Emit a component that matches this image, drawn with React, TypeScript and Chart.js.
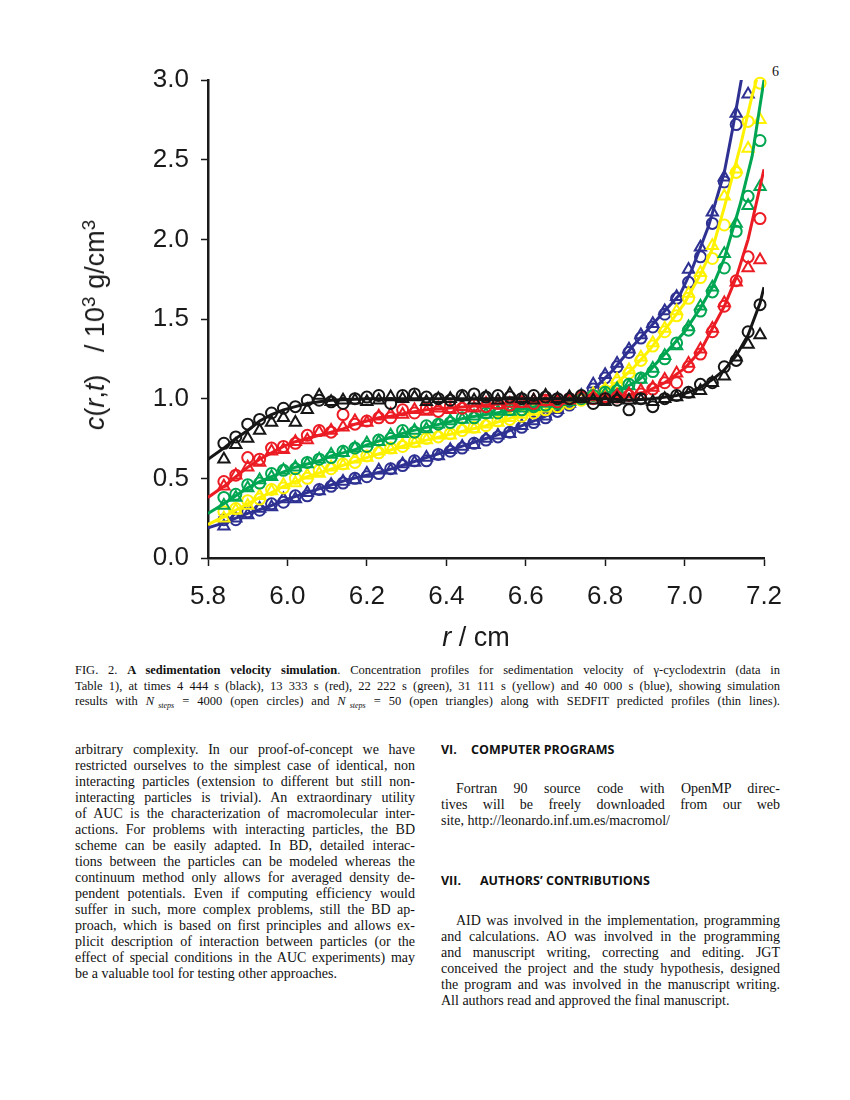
import React, { useEffect, useRef } from "react";
import { Chart, registerables } from "chart.js";

Chart.register(...registerables);

// ---------- data ----------
const xTicks = [5.8, 6.0, 6.2, 6.4, 6.6, 6.8, 7.0, 7.2];
const yTicks = [0, 0.5, 1.0, 1.5, 2.0, 2.5, 3.0];

// simulation sample positions (r, cm) shared by circles and triangles
const rGrid = [5.84, 5.87, 5.9, 5.93, 5.96, 5.99, 6.02, 6.05, 6.08, 6.11, 6.14, 6.17, 6.2, 6.23, 6.26, 6.29, 6.32, 6.35, 6.38, 6.41, 6.44, 6.47, 6.5, 6.53, 6.56, 6.59, 6.62, 6.65, 6.68, 6.71, 6.74, 6.77, 6.8, 6.83, 6.86, 6.89, 6.92, 6.95, 6.98, 7.01, 7.04, 7.07, 7.1, 7.13, 7.16, 7.19];

// N_steps = 4000 (open circles)
const blackCirc = [0.72, 0.76, 0.84, 0.87, 0.91, 0.94, 0.95, 0.99, 0.99, 0.98, 0.97, 1.0, 1.01, 1.02, 0.97, 1.02, 1.03, 1.01, 1.0, 0.99, 1.02, 1.03, 1.01, 1.02, 1.01, 1.0, 1.02, 1.01, 1.0, 1.0, 1.02, 0.97, 1.0, 0.99, 0.93, 1.0, 0.95, 1.0, 1.02, 1.04, 1.09, 1.1, 1.2, 1.24, 1.42, 1.59];
const redCirc = [0.48, 0.52, 0.63, 0.62, 0.69, 0.7, 0.72, 0.77, 0.8, 0.79, 0.9, 0.84, 0.86, 0.88, 0.88, 0.93, 0.91, 0.94, 0.92, 0.95, 0.94, 0.96, 0.95, 0.97, 0.96, 0.98, 0.97, 0.99, 0.98, 1.0, 1.01, 1.0, 1.0, 1.01, 1.02, 1.03, 1.06, 1.1, 1.1, 1.2, 1.28, 1.42, 1.58, 1.74, 1.89, 2.13];
const greenCirc = [0.38, 0.4, 0.46, 0.47, 0.53, 0.55, 0.56, 0.6, 0.62, 0.63, 0.67, 0.69, 0.7, 0.74, 0.75, 0.8, 0.79, 0.83, 0.84, 0.85, 0.88, 0.88, 0.91, 0.91, 0.93, 0.93, 0.95, 0.96, 0.97, 0.99, 1.0, 1.02, 1.04, 1.05, 1.09, 1.13, 1.17, 1.25, 1.35, 1.43, 1.55, 1.67, 1.82, 2.05, 2.27, 2.62];
const yellowCirc = [0.29, 0.31, 0.36, 0.37, 0.43, 0.44, 0.5, 0.5, 0.55, 0.56, 0.59, 0.6, 0.64, 0.66, 0.69, 0.7, 0.73, 0.75, 0.76, 0.78, 0.8, 0.82, 0.83, 0.86, 0.87, 0.89, 0.91, 0.93, 0.95, 0.97, 0.99, 1.02, 1.05, 1.1, 1.16, 1.24, 1.33, 1.42, 1.52, 1.63, 1.76, 1.88, 2.09, 2.42, 2.74, 2.98];
const blueCirc = [0.24, 0.24, 0.29, 0.3, 0.34, 0.35, 0.39, 0.39, 0.43, 0.45, 0.47, 0.5, 0.51, 0.53, 0.56, 0.58, 0.61, 0.61, 0.65, 0.67, 0.69, 0.72, 0.74, 0.76, 0.79, 0.82, 0.85, 0.88, 0.92, 0.96, 1.01, 1.06, 1.13, 1.2, 1.29, 1.38, 1.45, 1.53, 1.63, 1.73, 1.89, 2.1, 2.36, 2.72, null, null];

// N_steps = 50 (open triangles)
const blackTri = [0.62, 0.71, 0.75, 0.8, 0.85, 0.88, 0.85, 0.93, 1.02, 0.98, 0.99, 0.99, 0.98, 0.99, 1.01, 1.0, 1.01, 0.98, 1.0, 1.0, 1.01, 0.99, 1.01, 0.99, 1.03, 1.0, 0.99, 1.02, 1.0, 1.01, 1.0, 0.99, 0.98, 1.0, 0.99, 0.99, 0.98, 1.0, 1.01, 1.03, 1.05, 1.1, 1.14, 1.26, 1.34, 1.4];
const redTri = [0.45, 0.52, 0.57, 0.6, 0.67, 0.68, 0.73, 0.74, 0.79, 0.8, 0.82, 0.86, 0.85, 0.89, 0.9, 0.9, 0.93, 0.92, 0.94, 0.93, 0.95, 0.94, 0.97, 0.96, 0.97, 0.97, 0.99, 0.98, 0.99, 0.99, 1.0, 1.01, 1.0, 1.02, 1.03, 1.05, 1.07, 1.12, 1.16, 1.22, 1.31, 1.44, 1.6, 1.73, 1.82, 1.87];
const greenTri = [0.33, 0.38, 0.44, 0.49, 0.51, 0.55, 0.57, 0.59, 0.62, 0.65, 0.66, 0.69, 0.72, 0.73, 0.77, 0.78, 0.8, 0.81, 0.84, 0.86, 0.87, 0.89, 0.9, 0.92, 0.92, 0.94, 0.95, 0.97, 0.98, 0.98, 1.01, 1.01, 1.03, 1.06, 1.08, 1.12, 1.19, 1.27, 1.33, 1.45, 1.58, 1.7, 1.91, 2.1, 2.21, 2.33];
const yellowTri = [0.25, 0.3, 0.33, 0.39, 0.42, 0.46, 0.47, 0.52, 0.53, 0.57, 0.58, 0.62, 0.63, 0.67, 0.68, 0.71, 0.72, 0.74, 0.77, 0.77, 0.81, 0.81, 0.84, 0.85, 0.88, 0.9, 0.92, 0.94, 0.96, 0.98, 1.0, 1.03, 1.06, 1.12, 1.18, 1.26, 1.35, 1.44, 1.55, 1.66, 1.79, 1.96, 2.27, 2.44, 2.57, 2.75];
const blueTri = [0.2, 0.25, 0.27, 0.31, 0.32, 0.37, 0.37, 0.41, 0.42, 0.46, 0.48, 0.49, 0.53, 0.55, 0.55, 0.59, 0.6, 0.63, 0.64, 0.68, 0.7, 0.71, 0.75, 0.77, 0.78, 0.83, 0.86, 0.89, 0.93, 0.97, 1.02, 1.09, 1.15, 1.22, 1.31, 1.4, 1.47, 1.55, 1.64, 1.81, 1.95, 2.17, 2.39, 2.79, 2.91, null];

// SEDFIT predicted profiles (thin lines)
const blackLineR = [5.8, 5.84, 5.87, 5.9, 5.93, 5.96, 5.99, 6.02, 6.05, 6.08, 6.11, 6.2, 6.3, 6.4, 6.5, 6.6, 6.7, 6.8, 6.86, 6.92, 6.98, 7.01, 7.04, 7.07, 7.1, 7.13, 7.16, 7.19, 7.2];
const blackLineC = [0.62, 0.69, 0.75, 0.8, 0.86, 0.9, 0.93, 0.95, 0.97, 0.98, 0.99, 1.0, 1.0, 1.0, 1.0, 1.0, 1.0, 1.0, 0.99, 1.0, 1.02, 1.04, 1.07, 1.12, 1.18, 1.27, 1.4, 1.6, 1.7];
const redLineR = [5.8, 5.84, 5.87, 5.9, 5.93, 5.96, 5.99, 6.02, 6.05, 6.08, 6.11, 6.14, 6.17, 6.2, 6.23, 6.26, 6.3, 6.35, 6.4, 6.45, 6.5, 6.55, 6.6, 6.65, 6.7, 6.75, 6.8, 6.85, 6.9, 6.95, 7.0, 7.04, 7.07, 7.1, 7.13, 7.16, 7.2];
const redLineC = [0.38, 0.45, 0.51, 0.57, 0.62, 0.66, 0.7, 0.73, 0.75, 0.77, 0.79, 0.81, 0.84, 0.86, 0.88, 0.89, 0.91, 0.93, 0.94, 0.95, 0.96, 0.97, 0.98, 0.98, 0.99, 1.0, 1.0, 1.02, 1.04, 1.1, 1.19, 1.3, 1.44, 1.58, 1.76, 2.0, 2.44];
const greenLineR = [5.8, 5.84, 5.87, 5.9, 5.93, 5.96, 5.99, 6.02, 6.05, 6.08, 6.11, 6.14, 6.17, 6.2, 6.25, 6.3, 6.35, 6.4, 6.45, 6.5, 6.55, 6.6, 6.65, 6.7, 6.75, 6.8, 6.85, 6.88, 6.91, 6.95, 7.0, 7.04, 7.07, 7.1, 7.14, 7.17, 7.2];
const greenLineC = [0.28, 0.34, 0.39, 0.44, 0.48, 0.51, 0.54, 0.57, 0.59, 0.61, 0.64, 0.66, 0.68, 0.71, 0.75, 0.79, 0.82, 0.85, 0.88, 0.9, 0.92, 0.94, 0.96, 0.98, 1.0, 1.03, 1.07, 1.11, 1.17, 1.28, 1.42, 1.57, 1.7, 1.88, 2.22, 2.52, 3.0];
const yellowLineR = [5.8, 5.84, 5.87, 5.9, 5.93, 5.96, 5.99, 6.02, 6.05, 6.1, 6.15, 6.2, 6.25, 6.3, 6.35, 6.4, 6.45, 6.5, 6.55, 6.6, 6.65, 6.7, 6.75, 6.8, 6.83, 6.87, 6.91, 6.95, 7.0, 7.04, 7.07, 7.1, 7.14, 7.17, 7.19];
const yellowLineC = [0.21, 0.26, 0.3, 0.34, 0.38, 0.41, 0.45, 0.48, 0.51, 0.55, 0.59, 0.63, 0.67, 0.71, 0.74, 0.77, 0.8, 0.83, 0.87, 0.9, 0.93, 0.96, 1.0, 1.05, 1.1, 1.19, 1.3, 1.43, 1.6, 1.78, 1.94, 2.2, 2.58, 2.9, 3.08];
const blueLineR = [5.8, 5.84, 5.87, 5.9, 5.95, 6.0, 6.05, 6.1, 6.15, 6.2, 6.25, 6.3, 6.35, 6.4, 6.45, 6.5, 6.55, 6.6, 6.65, 6.7, 6.74, 6.78, 6.82, 6.87, 6.91, 6.95, 6.99, 7.02, 7.06, 7.1, 7.12, 7.15];
const blueLineC = [0.19, 0.22, 0.25, 0.28, 0.32, 0.37, 0.41, 0.45, 0.49, 0.52, 0.55, 0.59, 0.63, 0.67, 0.71, 0.75, 0.79, 0.84, 0.89, 0.95, 1.0, 1.08, 1.18, 1.33, 1.44, 1.55, 1.66, 1.82, 2.08, 2.42, 2.68, 3.1];

const seriesColors = ["#161616", "#ec1c24", "#00a651", "#fff200", "#2e3192"];

// ---------- helpers ----------
function pts(xs: number[], ys: (number | null)[]) {
  const out: { x: number; y: number }[] = [];
  xs.forEach((x, i) => {
    const y = ys[i];
    if (y !== null && y !== undefined) out.push({ x, y });
  });
  return out;
}

const TICK_FONT = "'Liberation Sans', Arial, Helvetica, sans-serif";
const SERIF = "'Liberation Serif', 'Times New Roman', serif";

function buildDatasets() {
  const lines = [
    [blackLineR, blackLineC],
    [redLineR, redLineC],
    [greenLineR, greenLineC],
    [yellowLineR, yellowLineC],
    [blueLineR, blueLineC],
  ];
  const circs = [blackCirc, redCirc, greenCirc, yellowCirc, blueCirc];
  const tris = [blackTri, redTri, greenTri, yellowTri, blueTri];
  const ds: any[] = [];
  seriesColors.forEach((c, i) => {
    ds.push({
      data: pts(lines[i][0] as number[], lines[i][1] as number[]),
      showLine: true,
      borderColor: c,
      borderWidth: 3,
      pointRadius: 0,
      fill: false,
      tension: 0,
      order: i + 1,
    });
    ds.push({
      data: pts(rGrid, circs[i]),
      showLine: false,
      pointStyle: "circle",
      pointRadius: 5.5,
      pointBorderWidth: 2,
      pointBorderColor: c,
      pointBackgroundColor: "rgba(0,0,0,0)",
      clip: false,
      order: i + 1,
    });
    ds.push({
      data: pts(rGrid, tris[i]),
      showLine: false,
      pointStyle: "triangle",
      pointRadius: 6.5,
      pointBorderWidth: 2,
      pointBorderColor: c,
      pointBackgroundColor: "rgba(0,0,0,0)",
      clip: false,
      order: i + 1,
    });
  });
  return ds;
}

function SedChart() {
  const ref = useRef<HTMLCanvasElement | null>(null);
  useEffect(() => {
    if (!ref.current) return;
    const axisCol = "#1a1a1a";
    const chart = new Chart(ref.current, {
      type: "scatter",
      data: { datasets: buildDatasets() },
      options: {
        responsive: false,
        animation: false,
        devicePixelRatio: 1,
        events: [],
        layout: { padding: { left: 0, top: 80, right: 86, bottom: 0 } },
        plugins: { legend: { display: false }, tooltip: { enabled: false } },
        scales: {
          x: {
            type: "linear",
            min: 5.8,
            max: 7.2,
            afterBuildTicks: (s: any) => {
              s.ticks = xTicks.map((v) => ({ value: v }));
            },
            afterFit: (s: any) => {
              s.height = 102;
            },
            ticks: {
              callback: (v: any) => Number(v).toFixed(1),
              font: { family: TICK_FONT, size: 26 },
              color: axisCol,
              padding: 15,
              maxRotation: 0,
              autoSkip: false,
            },
            grid: { drawOnChartArea: false, drawTicks: true, tickLength: 8, tickColor: axisCol, tickWidth: 1.5 },
            border: { display: true, color: axisCol, width: 2.5 },
          },
          y: {
            type: "linear",
            min: 0,
            max: 3,
            afterBuildTicks: (s: any) => {
              s.ticks = yTicks.map((v) => ({ value: v }));
            },
            afterFit: (s: any) => {
              s.width = 208;
            },
            ticks: {
              callback: (v: any) => Number(v).toFixed(1),
              font: { family: TICK_FONT, size: 26 },
              color: axisCol,
              padding: 12,
              autoSkip: false,
            },
            grid: { drawOnChartArea: false, drawTicks: true, tickLength: 7, tickColor: axisCol, tickWidth: 1.5 },
            border: { display: true, color: axisCol, width: 2.5 },
          },
        },
      } as any,
    });
    return () => chart.destroy();
  }, []);
  return (
    <canvas
      ref={ref}
      width={850}
      height={660}
      style={{ position: "absolute", left: 0, top: 0, width: 850, height: 660 }}
    />
  );
}

function JLine({ children, last, indent }: { children: any; last?: boolean; indent?: number }) {
  return (
    <div
      style={{
        textAlign: last ? "left" : "justify",
        textAlignLast: last ? "left" : "justify",
        whiteSpace: "nowrap",
        textIndent: indent || 0,
      } as any}
    >
      {children}
    </div>
  );
}

const Nsteps = () => (
  <span>
    <i>N</i>
    <span style={{ fontSize: 8, fontStyle: "italic", verticalAlign: "-3px", marginLeft: 4 }}>steps</span>
  </span>
);

export default function App() {
  const leftLines = [
    "arbitrary complexity.  In our proof-of-concept we have",
    "restricted ourselves to the simplest case of identical, non",
    "interacting particles (extension to different but still non-",
    "interacting particles is trivial). An extraordinary utility",
    "of AUC is the characterization of macromolecular inter-",
    "actions. For problems with interacting particles, the BD",
    "scheme can be easily adapted. In BD, detailed interac-",
    "tions between the particles can be modeled whereas the",
    "continuum method only allows for averaged density de-",
    "pendent potentials. Even if computing efficiency would",
    "suffer in such, more complex problems, still the BD ap-",
    "proach, which is based on first principles and allows ex-",
    "plicit description of interaction between particles (or the",
    "effect of special conditions in the AUC experiments) may",
    "be a valuable tool for testing other approaches.",
  ];
  const fortranLines = [
    "Fortran 90 source code with OpenMP direc-",
    "tives will be freely downloaded from our web",
    "site, http://leonardo.inf.um.es/macromol/",
  ];
  const aidLines = [
    "AID was involved in the implementation, programming",
    "and calculations. AO was involved in the programming",
    "and manuscript writing, correcting and editing. JGT",
    "conceived the project and the study hypothesis, designed",
    "the program and was involved in the manuscript writing.",
    "All authors read and approved the final manuscript.",
  ];
  const bodyStyle: any = { position: "absolute", fontFamily: SERIF, fontSize: 14, lineHeight: "16px", color: "#111" };
  const headStyle: any = {
    position: "absolute",
    fontFamily: "'Open Sans', 'DejaVu Sans', sans-serif",
    fontWeight: 700,
    fontSize: 12.5,
    lineHeight: "16px",
    color: "#111",
    whiteSpace: "nowrap",
  };
  return (
    <div style={{ position: "absolute", left: 0, top: 0, width: 850, height: 1100, background: "#fff", overflow: "hidden" }}>
      <div style={{ position: "absolute", left: 772, top: 64, fontFamily: SERIF, fontSize: 14, color: "#111" }}>6</div>
      <SedChart />
      {/* y-axis title */}
      <div
        style={{
          position: "absolute",
          left: 95,
          top: 325,
          transform: "translate(-50%, -50%) rotate(-90deg)",
          whiteSpace: "nowrap",
          fontFamily: TICK_FONT,
          fontSize: 27,
          color: "#1a1a1a",
          lineHeight: "30px",
        }}
      >
        <i>c</i>(<i>r</i>,<i>t</i>)&nbsp;&nbsp;&nbsp;/&nbsp;10<sup style={{ fontSize: 19, verticalAlign: "9px", lineHeight: 0 }}>3</sup>&nbsp;g/cm
        <sup style={{ fontSize: 19, verticalAlign: "9px", lineHeight: 0 }}>3</sup>
      </div>
      {/* x-axis title */}
      <div
        style={{
          position: "absolute",
          left: 476,
          top: 637,
          transform: "translate(-50%, -50%)",
          whiteSpace: "nowrap",
          fontFamily: TICK_FONT,
          fontSize: 27,
          color: "#1a1a1a",
        }}
      >
        <i>r</i> / cm
      </div>
      {/* caption */}
      <div style={{ position: "absolute", left: 75, top: 663, width: 705, fontFamily: SERIF, fontSize: 12.5, lineHeight: "15.5px", color: "#111" }}>
        <JLine>
          FIG. 2. <b>A sedimentation velocity simulation</b>. Concentration profiles for sedimentation velocity of γ-cyclodextrin (data in
        </JLine>
        <JLine>
          Table 1), at times 4&nbsp;444 s (black), 13&nbsp;333 s (red), 22&nbsp;222 s (green), 31&nbsp;111 s (yellow) and 40&nbsp;000 s (blue), showing simulation
        </JLine>
        <JLine>
          results with <Nsteps /> = 4000 (open circles) and <Nsteps /> = 50 (open triangles) along with SEDFIT predicted profiles (thin lines).
        </JLine>
      </div>
      {/* left column */}
      <div style={{ ...bodyStyle, left: 75, top: 742, width: 340 }}>
        {leftLines.map((l, i) => (
          <JLine key={i} last={i === leftLines.length - 1}>
            {l}
          </JLine>
        ))}
      </div>
      {/* right column */}
      <div style={{ ...headStyle, left: 441, top: 742 }}>
        <span style={{ display: "inline-block", width: 30 }}>VI.</span>COMPUTER PROGRAMS
      </div>
      <div style={{ ...bodyStyle, left: 441, top: 781, width: 339 }}>
        {fortranLines.map((l, i) => (
          <JLine key={i} last={i === fortranLines.length - 1} indent={i === 0 ? 15 : 0}>
            {l}
          </JLine>
        ))}
      </div>
      <div style={{ ...headStyle, left: 441, top: 873 }}>
        <span style={{ display: "inline-block", width: 39 }}>VII.</span>AUTHORS’ CONTRIBUTIONS
      </div>
      <div style={{ ...bodyStyle, left: 441, top: 913, width: 339 }}>
        {aidLines.map((l, i) => (
          <JLine key={i} last={i === aidLines.length - 1} indent={i === 0 ? 15 : 0}>
            {l}
          </JLine>
        ))}
      </div>
    </div>
  );
}
